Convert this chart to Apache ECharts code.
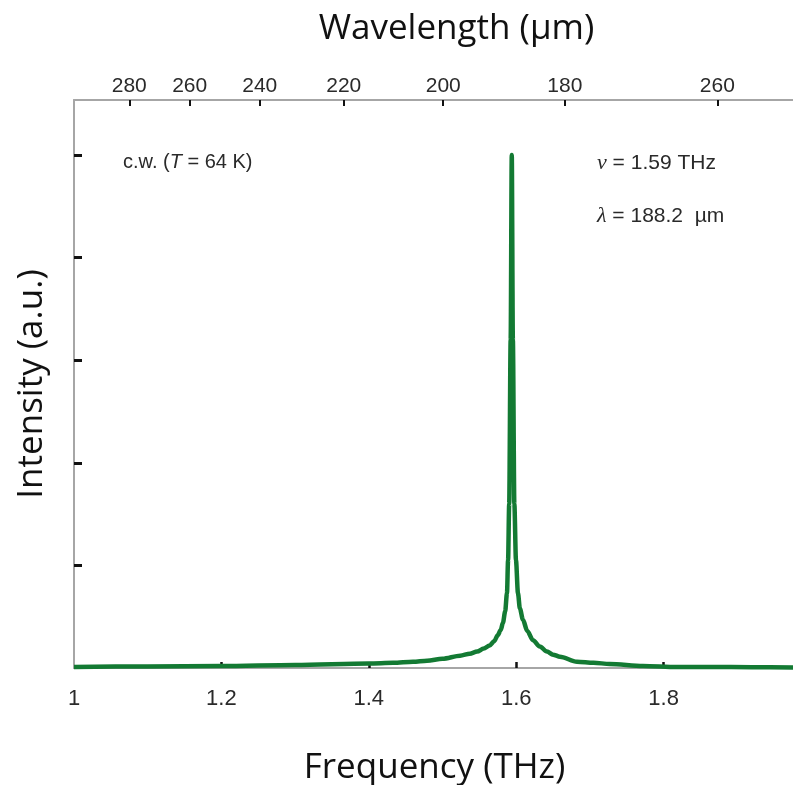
<!DOCTYPE html>
<html><head><meta charset="utf-8">
<script src="https://cdn.jsdelivr.net/npm/echarts@6/dist/echarts.min.js"></script>
<style>html,body{margin:0;padding:0;background:#fff}#c{width:793px;height:785px}</style>
</head><body><div id="c"></div>
<script>
// Spectrum data
const freqTHz = [1.000, 1.100, 1.200, 1.300, 1.400, 1.433, 1.460, 1.479, 1.500, 1.524, 1.537, 1.547, 1.556, 1.564, 1.570, 1.575, 1.579, 1.582, 1.585, 1.5875, 1.589, 1.5905, 1.5925, 1.594, 1.5955, 1.5975, 1.5997, 1.6024, 1.605, 1.6092, 1.615, 1.6228, 1.632, 1.6418, 1.650, 1.6594, 1.6825, 1.705, 1.727, 1.772, 1.818, 1.863, 1.920, 1.976];
const intensity = [0.01, 0.015, 0.02, 0.03, 0.045, 0.05, 0.06, 0.07, 0.09, 0.12, 0.14, 0.16, 0.19, 0.22, 0.26, 0.32, 0.37, 0.44, 0.55, 0.73, 1.05, 1.6, 3.2, 5.0, 3.2, 1.6, 1.05, 0.73, 0.58, 0.47, 0.36, 0.27, 0.21, 0.16, 0.13, 0.11, 0.06, 0.05, 0.04, 0.02, 0.01, 0.01, 0.008, 0.005];

// Bottom axis ticks / labels
const bottomTicks = [1.2, 1.4, 1.6, 1.8];
const bottomLabels = [1, 1.2, 1.4, 1.6, 1.8];
// Top axis: tick positions (in THz) and wavelength labels as printed
const topTickFreq = [1.075, 1.157, 1.252, 1.366, 1.501, 1.666, 1.873];
const topTickLabels = ['280', '260', '240', '220', '200', '180', '260'];
// Left axis ticks (no labels)
const leftTicks = [1, 2, 3, 4, 5];

const X_MIN = 1, X_MAX = 1.9756, Y_MIN = 0, Y_MAX = 5.536;

const chart = echarts.init(document.getElementById('c'), null, {renderer: 'canvas'});
const axisGrey = {show: true, lineStyle: {color: '#a6a6a6', width: 2}};
const tickFont = 'Liberation Sans, Arial, sans-serif';
const nameFont = 'Open Sans, Lato, sans-serif';

chart.setOption({
  animation: false,
  backgroundColor: '#fff',
  grid: {left: 74, top: 100, right: 0, bottom: 117, containLabel: false, outerBoundsMode: 'none'},
  xAxis: [
    {
      type: 'value', position: 'bottom', min: X_MIN, max: X_MAX,
      axisLine: axisGrey,
      axisTick: {show: true, inside: true, length: 6, customValues: bottomTicks, lineStyle: {color: '#111', width: 2.5}},
      axisLabel: {show: true, customValues: bottomLabels, margin: 20, fontFamily: tickFont, fontSize: 22, color: '#2a2a2a',
        formatter: v => String(Math.round(v * 10) / 10)},
      splitLine: {show: false},
      name: 'Frequency (THz)', nameLocation: 'middle', nameGap: 100,
      nameTextStyle: {fontFamily: nameFont, fontSize: 35, color: '#111', verticalAlign: 'middle', padding: [0, 0, 0, 2]}
    },
    {
      type: 'value', position: 'top', min: X_MIN, max: X_MAX,
      axisLine: axisGrey,
      axisTick: {show: true, inside: true, length: 6, customValues: topTickFreq, lineStyle: {color: '#111', width: 2}},
      axisLabel: {show: true, customValues: topTickFreq, margin: 3, fontFamily: tickFont, fontSize: 21, color: '#2a2a2a',
        formatter: v => { const i = topTickFreq.indexOf(v); return i >= 0 ? topTickLabels[i] : ''; }},
      splitLine: {show: false},
      name: 'Wavelength (µm)', nameLocation: 'middle', nameGap: 71,
      nameTextStyle: {fontFamily: nameFont, fontSize: 35, color: '#111', verticalAlign: 'middle', padding: [0, 0, 0, 46]}
    }
  ],
  yAxis: {
    type: 'value', min: Y_MIN, max: Y_MAX,
    axisLine: axisGrey,
    axisTick: {show: true, inside: true, length: 8, customValues: leftTicks, lineStyle: {color: '#111', width: 3}},
    axisLabel: {show: false},
    splitLine: {show: false},
    name: 'Intensity (a.u.)', nameLocation: 'middle', nameGap: 42,
    nameTextStyle: {fontFamily: nameFont, fontSize: 35, color: '#111', verticalAlign: 'middle'}
  },
  graphic: [
    {type: 'text', left: 123, top: 152, style: {
      text: '{a|c.w. (}{i|T}{a| = 64 K)}',
      rich: {
        a: {fontFamily: tickFont, fontSize: 20, fill: '#2a2a2a'},
        i: {fontFamily: tickFont, fontSize: 20, fontStyle: 'italic', fill: '#2a2a2a'}
      }}},
    {type: 'text', left: 597, top: 152, style: {
      text: '{g|ν}{a| = 1.59 THz}',
      rich: {
        a: {fontFamily: tickFont, fontSize: 21, fill: '#2a2a2a'},
        g: {fontFamily: 'Liberation Serif, DejaVu Serif, serif', fontSize: 22, fontStyle: 'italic', fill: '#2a2a2a'}
      }}},
    {type: 'text', left: 597, top: 205, style: {
      text: '{g|λ}{a| = 188.2  µm}',
      rich: {
        a: {fontFamily: tickFont, fontSize: 21, fill: '#2a2a2a'},
        g: {fontFamily: 'Liberation Serif, DejaVu Serif, serif', fontSize: 22, fontStyle: 'italic', fill: '#2a2a2a'}
      }}}
  ],
  series: [{
    type: 'line', xAxisIndex: 0, yAxisIndex: 0,
    data: freqTHz.map((f, i) => [f, intensity[i]]),
    showSymbol: false, symbol: 'none',
    smooth: 0.3, smoothMonotone: 'x',
    lineStyle: {color: '#137a33', width: 4.5},
    clip: true
  }]
});
</script>
</body></html>
